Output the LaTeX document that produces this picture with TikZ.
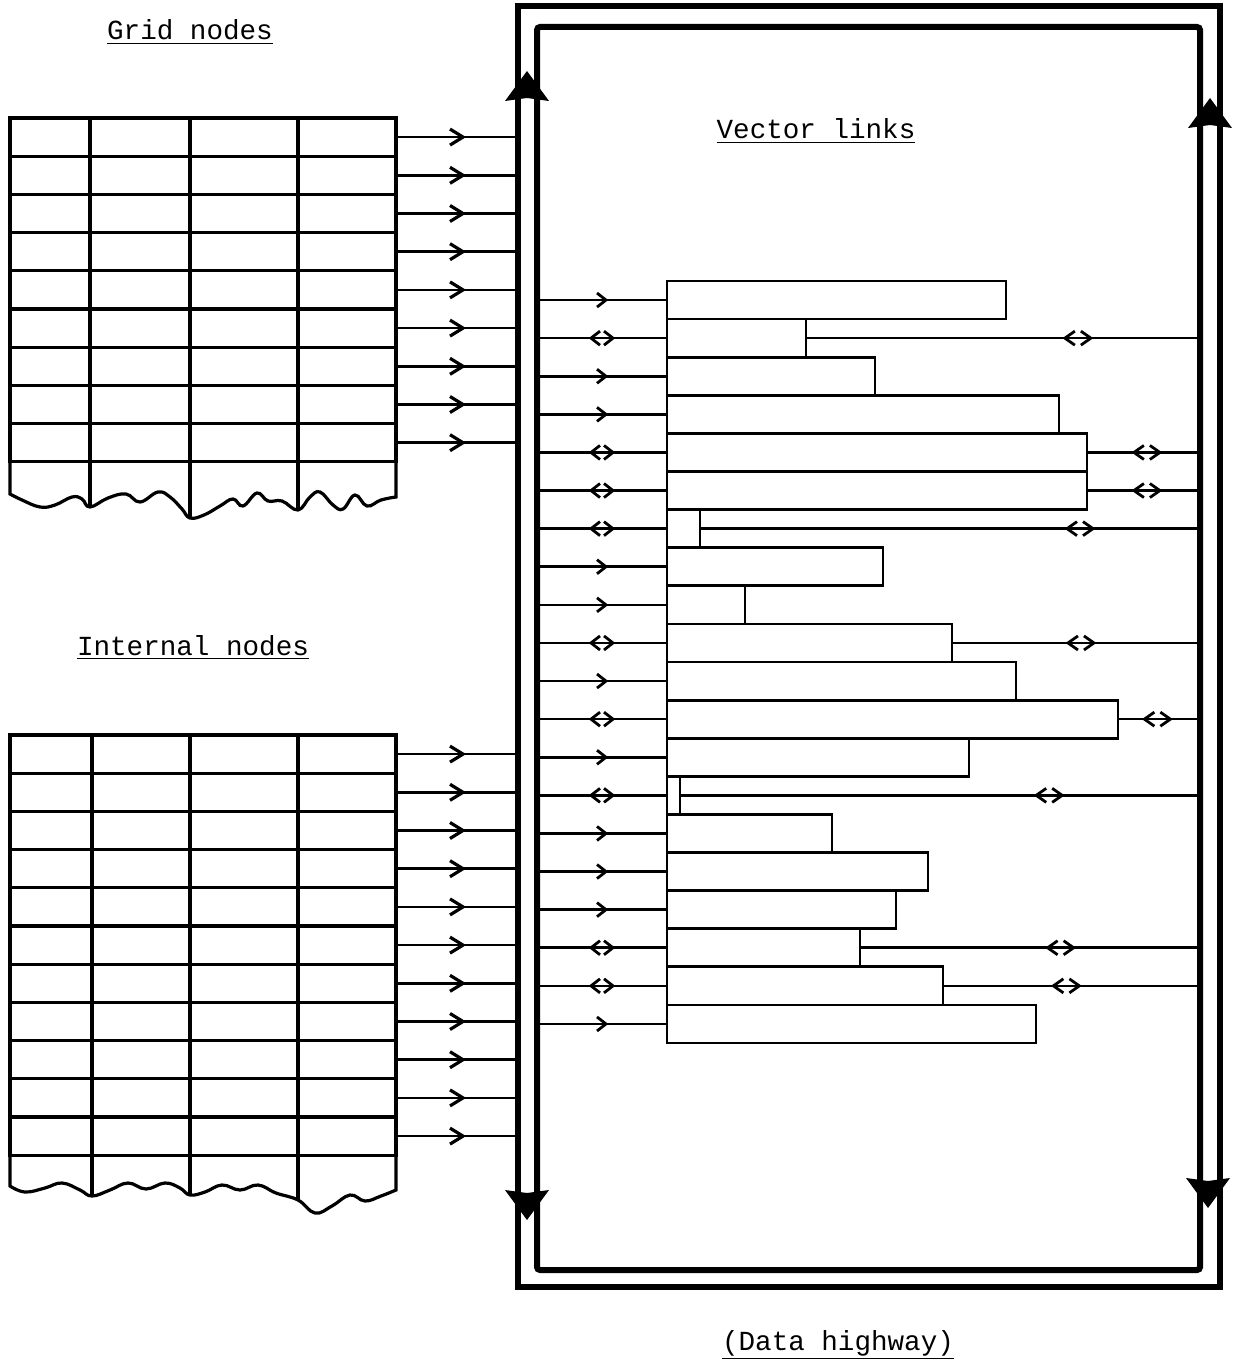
\documentclass[tikz,border=0pt]{standalone}
\usepackage{fontspec}
\setmonofont{Liberation Mono}
\usetikzlibrary{positioning}

\tikzset{
  hwy/.style={rectangle, draw, line width=3pt, inner sep=0pt, outer sep=0pt},
  cellrow/.style={rectangle, draw, line width=1.6pt, minimum width=193pt,
    minimum height=19.1pt, inner sep=0pt, outer sep=0pt},
  vbox/.style={rectangle, draw, line width=1.4pt, minimum height=19.05pt,
    inner sep=0pt, outer sep=0pt, anchor=north west},
  rule/.style={line width=1.6pt},
  feed/.style={line width=1.3pt},
  heading/.style={font=\fontsize{13.8}{16}\selectfont\ttfamily},
  fwd/.pic={\draw[line width=1.4pt] (-5,-7) -- (4,0) -- (-5,7);},
  bigfwd/.pic={\draw[line width=1.6pt] (-7,-8) -- (6,0) -- (-7,8);},
  duplex/.pic={\draw[line width=1.4pt] (-2,-7) -- (-11,0) -- (-2,7) (2,-7) -- (11,0) -- (2,7);},
  wideduplex/.pic={\draw[line width=1.4pt] (-3,-7) -- (-13,0) -- (-3,7) (3,-7) -- (13,0) -- (3,7);},
  hwyup/.pic={\fill (0,-30) -- (22,0) -- (0,-3) -- (-22,0) -- cycle;},
}

\begin{document}
\begin{tikzpicture}[x=0.5pt, y=-0.5pt]
  \useasboundingbox (0,0) rectangle (1242,1363);

  % data highway
  \node[hwy, minimum width=351pt, minimum height=640.5pt] (hout) at (869,646.5) {};
  \node[hwy, rounded corners=1.5pt, minimum width=331.5pt, minimum height=621.5pt] (hin) at (868.5,648.5) {};
  \pic at (527,101) {hwyup};
  \pic at (1210,128) {hwyup};
  \path pic[rotate=180] at (527,1190) {hwyup};
  \path pic[rotate=180] at (1208,1178) {hwyup};
  \node[heading, anchor=base] (hwylbl) at (838,1350) {\underline{(Data highway)}};

  % grid nodes
  \node[heading, anchor=base] (gridlbl) at (190,40) {\underline{Grid nodes}};
  \node[cellrow] (g1) at (203,137.1) {};
  \foreach \i [remember=\i as \j (initially 1)] in {2,...,9}
    \node[cellrow, below=0pt of g\j] (g\i) {};
  \foreach \c/\e in {90/507,190/518,298/510}
    \draw[rule] (\c,118) -- (\c,\e);
  \draw[rule] (g9.south west) -- plot[smooth, tension=.7] coordinates {
    (10,494) (22,500) (40,507) (55,505) (72,497) (82,499) (90,507)
    (108,498) (126,494) (140,502) (158,492) (170,497) (182,509) (190,518)
    (204,515) (220,506) (233,499) (243,506) (257,493) (268,501) (282,501) (298,510)
    (310,497) (320,492) (333,505) (343,509) (355,495) (367,506) (381,500) (396,497)}
    -- (g9.south east);
  \foreach \i in {1,...,9}
    \draw[feed] (g\i.east) -- (g\i.east -| hout.west) pic[pos=.5] {bigfwd};

  % internal nodes
  \node[heading, anchor=base] (intlbl) at (193,655) {\underline{Internal nodes}};
  \node[cellrow] (n1) at (203,754.1) {};
  \foreach \i [remember=\i as \j (initially 1)] in {2,...,11}
    \node[cellrow, below=0pt of n\j] (n\i) {};
  \foreach \c/\e in {92/1196,190/1195,298/1200}
    \draw[rule] (\c,735) -- (\c,\e);
  \draw[rule] (n11.south west) -- plot[smooth, tension=.7] coordinates {
    (10,1186) (25,1192) (45,1188) (62,1183) (80,1190) (92,1196)
    (110,1190) (128,1183) (146,1189) (165,1183) (180,1188) (190,1195)
    (205,1192) (222,1185) (240,1190) (258,1185) (276,1193) (298,1200)
    (315,1213) (332,1206) (350,1195) (365,1201) (381,1196) (396,1190)}
    -- (n11.south east);
  \foreach \i in {1,...,11}
    \draw[feed] (n\i.east) -- (n\i.east -| hout.west) pic[pos=.5] {bigfwd};

  % vector links
  \node[heading, anchor=base] (veclbl) at (816,139) {\underline{Vector links}};
  \foreach \w [count=\i] in {339,139,208,392,420,420,33,216,78,285,
                             349,451,302,13,165,261,229,193,276,369}
    \node[vbox, minimum width=\w*0.5pt] (v\i) at (667,{281+38.1*(\i-1)}) {};
  \foreach \i in {1,3,4,8,9,11,13,15,16,17,20}
    \draw[feed] (v\i.west -| hin.west) -- (v\i.west) pic[pos=.5] {fwd};
  \foreach \i in {2,5,6,7,10,12,14,18,19}
    \draw[feed] (v\i.west -| hin.west) -- (v\i.west) pic[pos=.5] {duplex};
  \foreach \i/\p in {2/.69,5/.53,6/.53,7/.76,10/.52,12/.48,14/.71,18/.59,19/.48}
    \draw[feed] (v\i.east) -- (v\i.east -| hin.east) pic[pos=\p] {wideduplex};
\end{tikzpicture}
\end{document}
